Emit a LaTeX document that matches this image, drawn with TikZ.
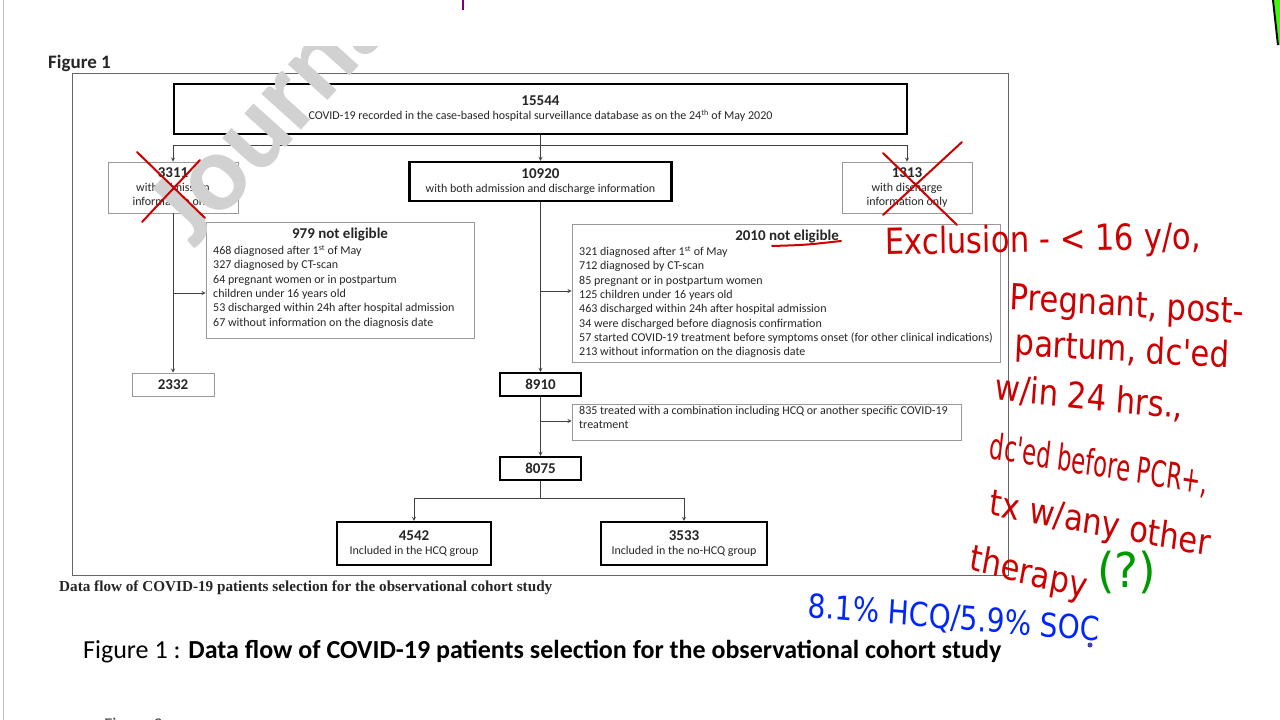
\documentclass[tikz,border=0pt]{standalone}
\usepackage{fontspec}
\setmainfont{Carlito}
\newfontfamily\capfont{Liberation Serif}
\newfontfamily\handfont{DejaVu Sans}
\usetikzlibrary{arrows, positioning, calc}

\begin{document}
\begin{tikzpicture}[
    x=1pt, y=-1pt,
    thickbox/.style={rectangle, draw=black, line width=2.2pt, inner sep=0pt, align=center, text=black!85, font=\fontsize{12}{14}\selectfont},
    thinbox/.style={rectangle, draw=black!40, line width=0.9pt, inner sep=0pt, align=center, text=black!85, font=\fontsize{12}{14}\selectfont},
    head/.style={font=\bfseries\fontsize{15}{16}\selectfont, text=black!85, inner sep=0pt},
    list/.style={anchor=north west, align=left, inner sep=0pt, font=\fontsize{12}{14.3}\selectfont, text=black!85},
    arrow/.style={->, >=stealth, draw=black!75, line width=0.8pt},
    line/.style={draw=black!75, line width=0.8pt},
    redink/.style={draw=red!80!black, line width=2pt, line cap=round},
    hand/.style={text=red!80!black, font=\handfont\fontsize{36}{36}\selectfont, xscale=0.85, inner sep=0pt, anchor=west}
]
\useasboundingbox (0,0) rectangle (1280,720);
\fill [white] (0,0) rectangle (1280,720);

% page edge and marks of the screen
\draw [black!25, line width=1pt] (3,0) -- (3,720);
\draw [violet, line width=2.5pt] (463,0) -- (463,10);
\fill [green!70!lime] (1274,0) -- (1280,0) -- (1280,45) -- (1279,45) -- cycle;
\draw [black, line width=2pt] (1273,0) -- (1278,45);

\node (fig) [anchor=west, font=\bfseries\fontsize{19}{20}\selectfont, text=black!85, inner sep=0pt] at (48,63) {Figure 1};

% frame of the figure
\draw [black!60, line width=0.8pt] (72,73) rectangle (1008,575);

% boxes
\node (total) [thickbox, minimum width=733pt, minimum height=50pt] at (540.5,109)
    {\textbf{\fontsize{15}{16}\selectfont 15544}\\COVID-19 recorded in the case-based hospital surveillance database as on the 24\textsuperscript{th} of May 2020};
\node (adm) [thinbox, minimum width=130pt, minimum height=51pt] at (173,187.5)
    {\textbf{\fontsize{15}{16}\selectfont 3311}\\with admission\\information only};
\node (both) [thickbox, minimum width=262pt, minimum height=39pt] at (540.5,181.5)
    {\textbf{\fontsize{15}{16}\selectfont 10920}\\with both admission and discharge information};
\node (dis) [thinbox, minimum width=130pt, minimum height=51pt] at (907,187.5)
    {\textbf{\fontsize{15}{16}\selectfont 1313}\\with discharge\\information only};

\node (ne1) [thinbox, minimum width=268pt, minimum height=116pt] at (340,280) {};
\node (ne1head) [head] at (340,235) {979 not eligible};
\node (ne1list) [list] at (213,245) {468 diagnosed after 1\textsuperscript{st} of May\\
    327 diagnosed by CT-scan\\
    64 pregnant women or in postpartum\\
    children under 16 years old\\
    53 discharged within 24h after hospital admission\\
    67 without information on the diagnosis date};

\node (ne2) [thinbox, minimum width=428pt, minimum height=138pt] at (786,293) {};
\node (ne2head) [head] at (787,237) {2010 not eligible};
\node (ne2list) [list] at (579,246) {321 diagnosed after 1\textsuperscript{st} of May\\
    712 diagnosed by CT-scan\\
    85 pregnant or in postpartum women\\
    125 children under 16 years old\\
    463 discharged within 24h after hospital admission\\
    34 were discharged before diagnosis confirmation\\
    57 started COVID-19 treatment before symptoms onset (for other clinical indications)\\
    213 without information on the diagnosis date};

\node (n2332) [thinbox, minimum width=82pt, minimum height=23pt, font=\bfseries\fontsize{15}{16}\selectfont] at (173,384.5) {2332};
\node (n8910) [thickbox, minimum width=81pt, minimum height=23pt, font=\bfseries\fontsize{15}{16}\selectfont] at (540.5,384.5) {8910};
\node (trt) [thinbox, minimum width=389pt, minimum height=36pt] at (766.5,422) {};
\node (trtlist) [list] at (579,406) {835 treated with a combination including HCQ or another specific COVID-19\\treatment};
\node (n8075) [thickbox, minimum width=81pt, minimum height=23pt, font=\bfseries\fontsize{15}{16}\selectfont] at (540.5,468.5) {8075};
\node (hcq) [thickbox, minimum width=154pt, minimum height=43pt] at (414,543.5)
    {\textbf{\fontsize{15}{16}\selectfont 4542}\\Included in the HCQ group};
\node (nohcq) [thickbox, minimum width=166pt, minimum height=43pt] at (684,543.5)
    {\textbf{\fontsize{15}{16}\selectfont 3533}\\Included in the no-HCQ group};

% connectors
\coordinate (s1) at (540.5,145);
\coordinate (b1) at (173,293);
\coordinate (b2) at (540.5,291);
\coordinate (b3) at (540.5,421);
\coordinate (s3) at (540.5,498);
\draw [arrow] (total) -- (both);
\draw [arrow] (s1) -| (adm);
\draw [arrow] (s1) -| (dis);
\draw [arrow] (adm) -- (n2332);
\draw [arrow] (b1) -- (b1 -| ne1.west);
\draw [arrow] (both) -- (n8910);
\draw [arrow] (b2) -- (b2 -| ne2.west);
\draw [arrow] (n8910) -- (n8075);
\draw [arrow] (b3) -- (b3 -| trt.west);
\draw [line] (n8075) -- (s3);
\draw [arrow] (s3) -| (hcq);
\draw [arrow] (s3) -| (nohcq);

% watermark
\begin{scope}
\clip (0,46) rectangle (1280,720);
\node (wmark) [anchor=base west, rotate=48, text=black!18, font=\bfseries\fontsize{110}{110}\selectfont, inner sep=0pt] at (194,250) {Journal};
\end{scope}

% captions
\node (figcap) [anchor=west, font=\capfont\bfseries\fontsize{15.2}{17}\selectfont, text=black!85, inner sep=0pt] at (59,588) {Data flow of COVID-19 patients selection for the observational cohort study};
\node (title) [anchor=west, font=\fontsize{26}{28}\selectfont, text=black, inner sep=0pt] at (83,652) {Figure 1 : \textbf{Data flow of COVID-19 patients selection for the observational cohort study}};
\node (fig2) [anchor=west, font=\fontsize{18}{20}\selectfont, text=black!70, inner sep=0pt] at (104,726) {Figure 2};

% hand notes
\draw [redink] (137,152) -- (205,218);
\draw [redink] (200,160) -- (142,222);
\draw [redink] (883,153) -- (957,225);
\draw [redink] (962,142) -- (883,215);
\draw [redink] (772,246) .. controls (805,245) .. (841,241);
\node (ex1) [hand, rotate=1] at (885,245) {Exclusion - < 16 y/o,};
\node (ex2) [hand, rotate=-3] at (1010,300) {Pregnant, post-};
\node (ex3) [hand, rotate=-3] at (1015,345) {partum, dc'ed};
\node (ex4) [hand, rotate=-5] at (995,388) {w/in 24 hrs.,};
\node (ex5) [hand, rotate=-8, xscale=0.74] at (990,447) {dc'ed before PCR+,};
\node (ex6) [hand, rotate=-9] at (990,505) {tx w/any other};
\node (ex7) [hand, rotate=-12] at (970,560) {therapy};
\node (qmark) [hand, text=green!60!black, font=\handfont\fontsize{48}{48}\selectfont, xscale=1.1] at (1097,572) {(?)};
\node (rate) [hand, text=blue!85!cyan, rotate=-4, font=\handfont\fontsize{33}{33}\selectfont] at (808,607) {8.1\% HCQ/5.9\% SOC};
\fill [blue!50!gray] (1090,645) circle (2.5pt);

\end{tikzpicture}
\end{document}
